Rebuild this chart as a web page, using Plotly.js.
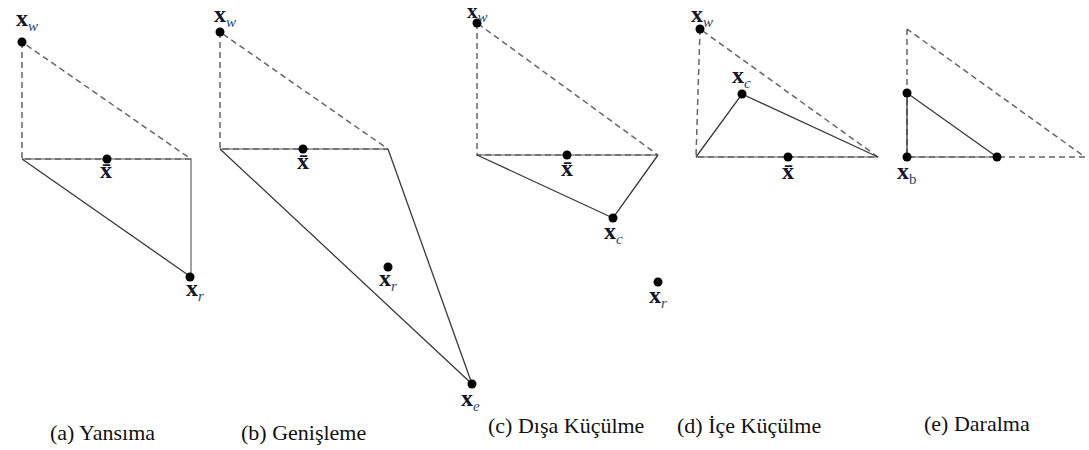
<!DOCTYPE html>
<html>
<head>
<meta charset="utf-8">
<script src="https://cdn.plot.ly/plotly-3.0.1.min.js"></script>
<style>html,body{margin:0;padding:0;background:#fff;}#chart{width:1089px;height:450px;}</style>
</head>
<body>
<div id="chart"></div>
<script>
// ---- data (diagram coordinates) ----
const panelCaptions = ["(a) Yansıma", "(b) Genişleme", "(c) Dışa Küçülme", "(d) İçe Küçülme", "(e) Daralma"];
const captionX = [102, 303, 566, 749, 977];
const captionY = [432, 432, 425, 425, 423];

// vertices (black dots)
const dotX = [22, 107, 190, 220, 303, 388, 472, 477, 567, 613, 658, 700, 788, 742, 907, 907, 997];
const dotY = [42, 159, 277, 32, 149, 267, 384, 23, 155, 218, 282, 29, 157, 94, 93, 157, 157];

// old simplex (dashed)
const oldEdgeX = [22, 22, 191, 22, null, 220, 220, 388, 220, null, 477, 477, 658, 477, null, 700, 696, 878, 700, null, 907, 907, 1085, 907];
const oldEdgeY = [42, 159, 159, 42, null, 32, 149, 149, 32, null, 23, 155, 155, 23, null, 29, 157, 157, 29, null, 29, 157, 157, 29];

// new simplex edges (solid, dark)
const newEdgeX = [22, 191, null, 220, 472, 388, null, 477, 613, 658, null, 696, 742, 878, null, 907, 907, null, 907, 997];
const newEdgeY = [159, 277, null, 149, 384, 149, null, 155, 218, 155, null, 157, 94, 157, null, 93, 157, null, 93, 157];

// shared edges (solid, light, under dashes)
const sharedEdgeX = [22, 191, 191, null, 220, 388, null, 477, 658, null, 696, 878, null, 907, 997];
const sharedEdgeY = [159, 159, 277, null, 149, 149, null, 155, 155, null, 157, 157, null, 157, 157];

// point labels
const labelSub = ["w", "bar", "r", "w", "bar", "r", "e", "w", "bar", "c", "r", "w", "bar", "c", "b"];
const labelX = [27, 106, 195, 225, 303, 388, 470, 477, 567, 613, 658, 702, 788, 741, 907];
const labelY = [19, 170, 289, 15, 161, 279, 399, 12, 168, 232, 296, 15, 171, 76, 172];
const labelSize = [24, 24, 24, 24, 24, 24, 24, 21, 24, 24, 24, 24, 24, 24, 24];

// ---- build ----
const SERIF = "Liberation Serif";
function labelHtml(s) {
  if (s === "bar") return "<b>x\u0304</b>";
  const inner = (s === "b") ? s : "<i>" + s + "</i>";
  return "<b>x</b><sub><span style='font-size:15px;color:#2f4470'>" + inner + "</span></sub>";
}

const traces = [
  {x: sharedEdgeX, y: sharedEdgeY, mode: "lines", line: {color: "#8a8a8a", width: 1.6}, hoverinfo: "skip"},
  {x: oldEdgeX, y: oldEdgeY, mode: "lines", line: {color: "#666666", width: 1.5, dash: "6px,4px"}, hoverinfo: "skip"},
  {x: newEdgeX, y: newEdgeY, mode: "lines", line: {color: "#3a3a3a", width: 1.3}, hoverinfo: "skip"},
  {x: dotX, y: dotY, mode: "markers", marker: {color: "#000", size: 9}, hoverinfo: "skip"}
];

const annotations = [];
for (let i = 0; i < labelSub.length; i++) {
  annotations.push({
    x: labelX[i], y: labelY[i], xref: "x", yref: "y", showarrow: false,
    text: labelHtml(labelSub[i]),
    font: {family: SERIF, size: labelSize[i], color: "#15152a"},
    xanchor: "center", yanchor: "middle"
  });
}
for (let i = 0; i < panelCaptions.length; i++) {
  annotations.push({
    x: captionX[i], y: captionY[i], xref: "x", yref: "y", showarrow: false,
    text: panelCaptions[i],
    font: {family: SERIF, size: 22, color: "#111"},
    xanchor: "center", yanchor: "middle"
  });
}

const layout = {
  width: 1089, height: 450,
  margin: {l: 0, r: 0, t: 0, b: 0, pad: 0},
  paper_bgcolor: "#fff", plot_bgcolor: "#fff",
  showlegend: false,
  font: {family: SERIF},
  xaxis: {range: [0, 1089], visible: false, fixedrange: true},
  yaxis: {range: [450, 0], visible: false, fixedrange: true},
  annotations: annotations
};

Plotly.newPlot("chart", traces, layout, {staticPlot: true, displayModeBar: false});
</script>
</body>
</html>
